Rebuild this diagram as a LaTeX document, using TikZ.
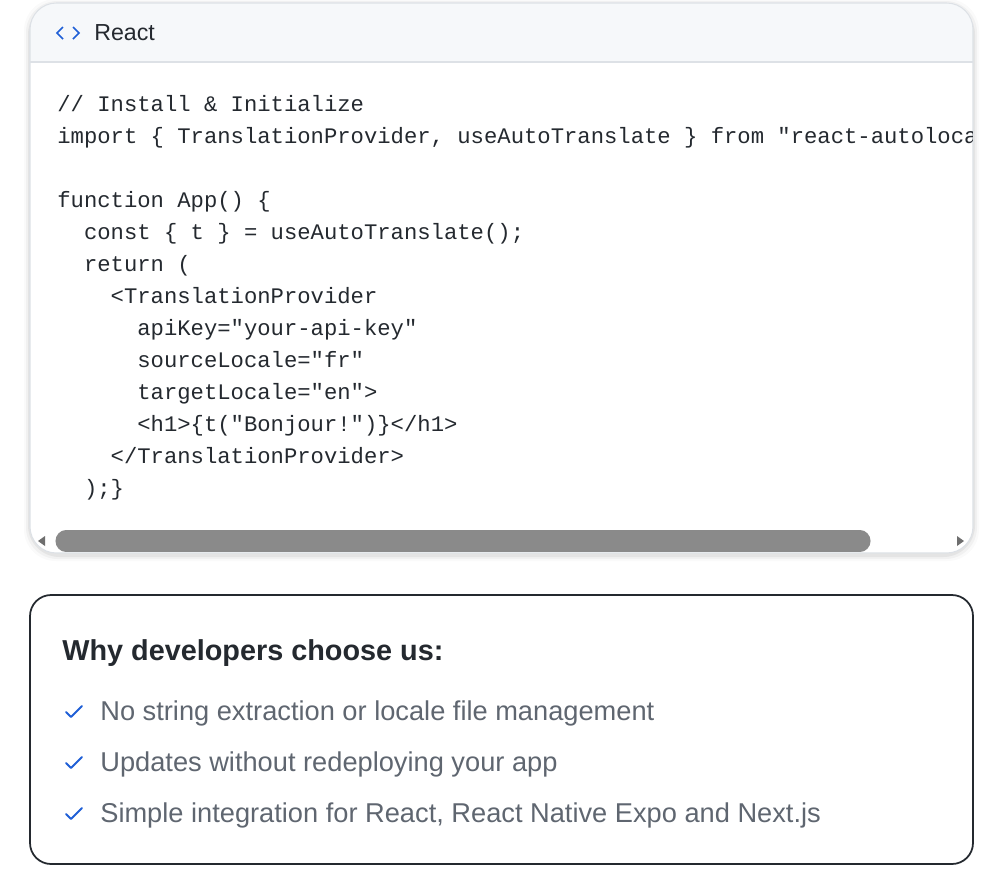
\documentclass[tikz,border=0pt]{standalone}
\usepackage{fontspec}
\setmainfont{Liberation Sans}
\setsansfont{Liberation Sans}
\setmonofont{Liberation Mono}
\usetikzlibrary{positioning}
\definecolor{hdrbg}{HTML}{F6F8FA}
\definecolor{rule}{HTML}{DDE1E6}
\definecolor{codefg}{HTML}{24292F}
\definecolor{thumb}{HTML}{8A8A8A}
\definecolor{checkblue}{HTML}{1F5FD6}
\definecolor{itemgray}{HTML}{5F6670}
\tikzset{
  codeline/.style={anchor=base west, inner sep=0pt, font=\ttfamily\fontsize{12.65}{14}\selectfont, text=codefg},
  item/.style={anchor=base west, inner sep=0pt, font=\fontsize{15.5}{18}\selectfont, text=itemgray},
  tick/.style={checkblue, line width=1.1pt, line cap=round, line join=round}
}
\begin{document}
\begin{tikzpicture}[x=0.02cm,y=-0.02cm]
  \useasboundingbox (0,0) rectangle (1000,873);
  % card shadow
  \foreach \s/\o in {6/8,4/14,2/22} {
    \fill [black, opacity=0.02*\o/8, rounded corners=18] (30-\s,3-\s+2) rectangle (973+\s,553+\s+2);
  }
  % code card
  \fill [white, rounded corners=15] (30,3) rectangle (973,553);
  \begin{scope}
    \clip [rounded corners=15] (30,3) rectangle (973,553);
    \fill [hdrbg] (30,3) rectangle (973,62);
  \end{scope}
  \draw [rule, line width=0.6pt] (30,62) -- (973,62);
  \draw [rule, line width=0.6pt, rounded corners=15] (30,3) rectangle (973,553);
  % header
  \draw [checkblue, line width=1pt] (63,27) -- (57,33) -- (63,39) (73,27) -- (79,33) -- (73,39);
  \node [anchor=base west, inner sep=0pt, font=\fontsize{13.2}{15}\selectfont, text=codefg] (lang) at (94,40) {React};
  % code
  \begin{scope}
    \clip (31,63) rectangle (972,530);
    \node [codeline] (c1) at (57,111) {// Install \& Initialize};
    \node [codeline] (c2) at (57,143) {import \{ TranslationProvider, useAutoTranslate \} from "react-autoloca};
    \node [codeline] (c3) at (57,207) {function App() \{};
    \node [codeline] (c4) at (57,239) {\ \ const \{ t \} = useAutoTranslate();};
    \node [codeline] (c5) at (57,271) {\ \ return (};
    \node [codeline] (c6) at (57,303) {\ \ \ \ <TranslationProvider};
    \node [codeline] (c7) at (57,335) {\ \ \ \ \ \ apiKey="your-api-key"};
    \node [codeline] (c8) at (57,367) {\ \ \ \ \ \ sourceLocale="fr"};
    \node [codeline] (c9) at (57,399) {\ \ \ \ \ \ targetLocale="en">};
    \node [codeline] (c10) at (57,431) {\ \ \ \ \ \ <h1>\{t("Bonjour!")\}</h1>};
    \node [codeline] (c11) at (57,463) {\ \ \ \ </TranslationProvider>};
    \node [codeline] (c12) at (57,495) {\ \ );\}};
  \end{scope}
  % scrollbar
  \draw [thumb, line width=12pt, line cap=round] (66,541) -- (860,541);
  \fill [thumb!80!black] (38,541) -- (45,536) -- (45,546) -- cycle;
  \fill [thumb!80!black] (964,541) -- (957,536) -- (957,546) -- cycle;
  % features box
  \draw [codefg, line width=1pt, rounded corners=12] (30,595) rectangle (973,864);
  \node [anchor=base west, inner sep=0pt, font=\bfseries\fontsize{16.4}{19}\selectfont, text=codefg] (title) at (62,660) {Why developers choose us:};
  \foreach \y/\txt [count=\i] in {720/{No string extraction or locale file management},
                                  771/{Updates without redeploying your app},
                                  822/{Simple integration for React, React Native Expo and Next.js}} {
    \draw [tick] (66,\y-8) -- (71,\y-3) -- (82,\y-14);
    \node [item] (f\i) at (100,\y) {\txt};
  }
\end{tikzpicture}
\end{document}
